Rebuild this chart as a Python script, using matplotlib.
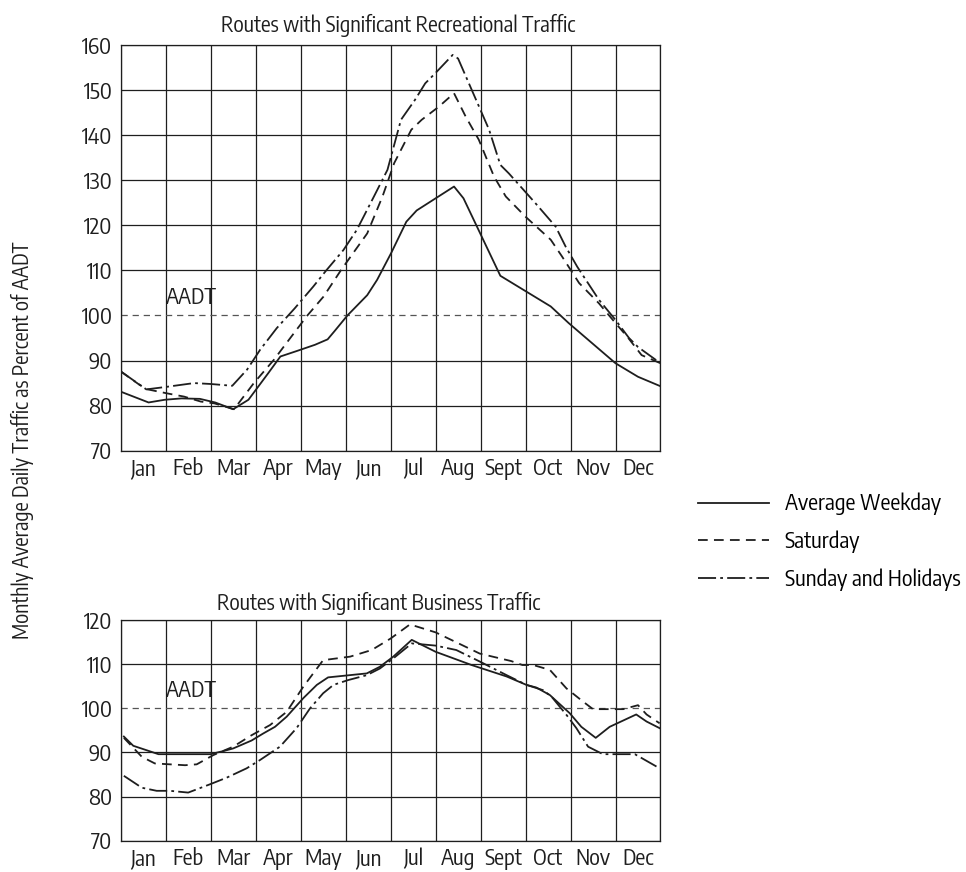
import matplotlib
matplotlib.use("Agg")
import matplotlib.pyplot as plt
from matplotlib import font_manager as fm
import numpy as np

# narrow grotesque like the original; fall back to whatever is there
have = {f.name for f in fm.fontManager.ttflist}
for fam in ['Encode Sans Condensed', 'Fira Sans Condensed', 'DejaVu Sans']:
    if fam in have:
        break
plt.rcParams['font.family'] = [fam, 'DejaVu Sans']
if fam == 'DejaVu Sans':
    plt.rcParams['font.stretch'] = 'condensed'
plt.rcParams['lines.scale_dashes'] = False
FS = 16

# DATA
months = ['Jan', 'Feb', 'Mar', 'Apr', 'May', 'Jun', 'Jul', 'Aug', 'Sept', 'Oct', 'Nov', 'Dec']

# recreational routes (x in months from start of Jan)
rec_wkday_x = [0.0, 0.62, 0.98, 1.35, 1.76, 2.1, 2.5, 2.84, 3.28, 3.55, 3.91, 4.32, 4.6, 4.76,
               5.04, 5.48, 5.7, 6.01, 6.35, 6.58, 7.41, 7.62, 7.93, 8.44, 9.56, 9.96, 11.0, 11.5, 12.0]
rec_wkday_y = [83.1, 80.7, 81.3, 81.6, 81.5, 80.7, 79.2, 81.3, 87.2, 90.9, 92.1, 93.5, 94.7, 96.6,
               100.0, 104.5, 107.9, 113.8, 120.8, 123.3, 128.6, 126.0, 119.5, 108.8, 102.0, 98.3, 89.4, 86.4, 84.3]

rec_sat_x = [0.0, 0.42, 0.6, 1.04, 1.41, 1.78, 2.08, 2.52, 2.96, 3.4, 3.77, 4.15, 4.51, 4.9, 5.48,
             5.82, 6.08, 6.46, 6.69, 7.07, 7.41, 7.67, 7.96, 8.3, 8.56, 9.0, 9.56, 9.81, 10.19, 10.63,
             11.0, 11.26, 11.58, 12.0]
rec_sat_y = [87.6, 84.6, 83.6, 82.7, 82.0, 80.9, 80.5, 79.2, 85.0, 90.1, 95.0, 100.0, 104.2, 110.1, 118.2,
             126.4, 133.8, 141.2, 143.4, 146.3, 149.3, 144.1, 139.0, 130.8, 126.4, 121.9, 116.8, 113.1, 107.2, 102.7,
             98.3, 95.3, 91.2, 89.4]

rec_sun_x = [0.0, 0.57, 0.97, 1.63, 2.0, 2.48, 2.81, 3.1, 3.47, 3.87, 4.28, 4.57, 4.95, 5.25, 5.63,
             5.93, 6.23, 6.54, 6.77, 6.99, 7.38, 7.5, 7.74, 8.19, 8.44, 8.63, 9.22, 9.67, 9.89, 10.15,
             10.63, 11.0, 11.3, 11.5, 12.0]
rec_sun_y = [87.6, 83.6, 84.1, 85.0, 84.8, 84.4, 88.0, 92.4, 97.2, 101.6, 106.4, 110.0, 114.5, 119.0, 126.4,
             132.3, 143.4, 147.8, 151.5, 153.7, 157.8, 157.0, 151.5, 141.2, 133.4, 131.5, 124.9, 119.7, 115.3, 110.8,
             103.5, 99.0, 95.0, 93.0, 89.4]

# business routes
bus_wkday_x = [0.07, 0.28, 0.84, 1.99, 2.28, 2.5, 2.91, 3.17, 3.43, 3.69, 4.06, 4.36, 4.61, 5.47, 5.76,
               6.06, 6.47, 7.0, 7.8, 8.58, 9.02, 9.24, 9.54, 9.98, 10.24, 10.56, 10.87, 11.46, 11.69, 11.98]
bus_wkday_y = [93.6, 91.5, 89.6, 89.6, 90.3, 90.9, 92.7, 94.3, 95.8, 98.1, 102.3, 105.3, 107.0, 107.9, 109.4,
               111.7, 115.5, 112.8, 109.8, 107.2, 105.3, 104.7, 103.0, 98.9, 95.8, 93.3, 95.8, 98.6, 97.0, 95.5]

bus_sat_x = [0.07, 0.47, 0.76, 1.43, 1.69, 2.06, 2.5, 2.91, 3.32, 3.69, 4.06, 4.5, 4.8, 5.1, 5.58,
             6.0, 6.43, 7.0, 7.98, 8.68, 8.93, 9.17, 9.54, 9.91, 10.28, 10.5, 11.17, 11.5, 11.69, 11.98]
bus_sat_y = [93.3, 89.0, 87.5, 87.1, 87.3, 89.4, 91.3, 93.9, 96.2, 99.2, 104.9, 110.9, 111.3, 111.7, 113.2,
             115.8, 119.0, 117.2, 112.4, 110.7, 109.8, 109.8, 108.7, 104.5, 101.5, 99.8, 99.8, 100.7, 98.6, 96.6]

bus_sun_x = [0.07, 0.47, 0.8, 1.1, 1.5, 1.99, 2.36, 2.8, 3.1, 3.54, 3.91, 4.21, 4.5, 4.73, 5.06, 5.47,
             5.76, 6.06, 6.47, 7.0, 7.46, 7.98, 8.58, 9.02, 9.39, 9.58, 9.91, 10.13, 10.39, 10.72, 11.43, 11.98]
bus_sun_y = [84.7, 82.0, 81.3, 81.3, 80.9, 82.8, 84.3, 86.4, 88.3, 91.3, 95.5, 100.0, 103.4, 105.3, 106.4, 107.5,
             109.0, 111.3, 114.7, 114.2, 113.2, 110.6, 107.5, 105.3, 104.1, 102.6, 98.5, 95.5, 91.3, 89.6, 89.6, 86.4]

labels = ['Average Weekday', 'Saturday', 'Sunday and Holidays']

INK = '#1e1e1e'
styles = [dict(ls='-'), dict(ls=(0, (7, 4.5))), dict(ls=(0, (13, 3, 2, 3)))]

W, H = 966, 872
fig = plt.figure(figsize=(W / 100, H / 100), dpi=100)


def px(l, t, r, b):
    return [l / W, 1 - b / H, (r - l) / W, (b - t) / H]


def setup(ax, ymax):
    ax.set_xlim(0, 12)
    ax.set_ylim(70, ymax)
    ax.set_xticks(np.arange(13))
    ax.set_xticklabels([])
    ax.set_xticks(np.arange(12) + 0.5, minor=True)
    ax.set_xticklabels(months, minor=True, fontsize=FS, color=INK)
    yt = np.arange(70, ymax + 1, 10)
    ax.set_yticks(yt)
    ax.tick_params(which='both', length=0, labelsize=FS, colors=INK)
    ax.tick_params(axis='x', which='minor', pad=5)
    ax.tick_params(axis='y', pad=6)
    ax.grid(True, which='major', color=INK, lw=0.9)
    # the 100 line is the dashed AADT line, not a grid line
    for v, gl in zip(yt, ax.get_ygridlines()):
        if v == 100:
            gl.set_visible(False)
    for s in ax.spines.values():
        s.set_color(INK)
        s.set_linewidth(0.9)
    ax.axhline(100, color='#555555', lw=0.9, ls=(0, (4.5, 3.5)))
    ax.text(1.0, 102.6, 'AADT', fontsize=FS, color=INK, ha='left', va='baseline')


ax1 = fig.add_axes(px(120.7, 45, 660.5, 450.7))
setup(ax1, 160)
handles = []
for x, y, st, lab in zip([rec_wkday_x, rec_sat_x, rec_sun_x], [rec_wkday_y, rec_sat_y, rec_sun_y], styles, labels):
    ln, = ax1.plot(x, y, color=INK, lw=1.3, label=lab, **st)
    handles.append(ln)

ax2 = fig.add_axes(px(120.7, 620, 660.5, 840.7))
setup(ax2, 120)
for x, y, st in zip([bus_wkday_x, bus_sat_x, bus_sun_x], [bus_wkday_y, bus_sat_y, bus_sun_y], styles):
    ax2.plot(x, y, color=INK, lw=1.3, **st)

fig.text(398 / W, 1 - 32 / H, 'Routes with Significant Recreational Traffic', fontsize=FS - 0.5,
         color=INK, ha='center', va='baseline')
fig.text(379 / W, 1 - 610 / H, 'Routes with Significant Business Traffic', fontsize=FS - 0.5,
         color=INK, ha='center', va='baseline')
fig.text(22 / W, 1 - 440 / H, 'Monthly Average Daily Traffic as Percent of AADT', fontsize=FS - 1,
         color=INK, rotation=90, ha='center', va='center')

fig.legend(handles=handles, loc='upper left', bbox_to_anchor=(689 / W, 1 - 484 / H), frameon=False,
           fontsize=FS, handlelength=3.2, handletextpad=0.7, labelspacing=0.68, borderaxespad=0)

fig.savefig('out.png', dpi=100)
